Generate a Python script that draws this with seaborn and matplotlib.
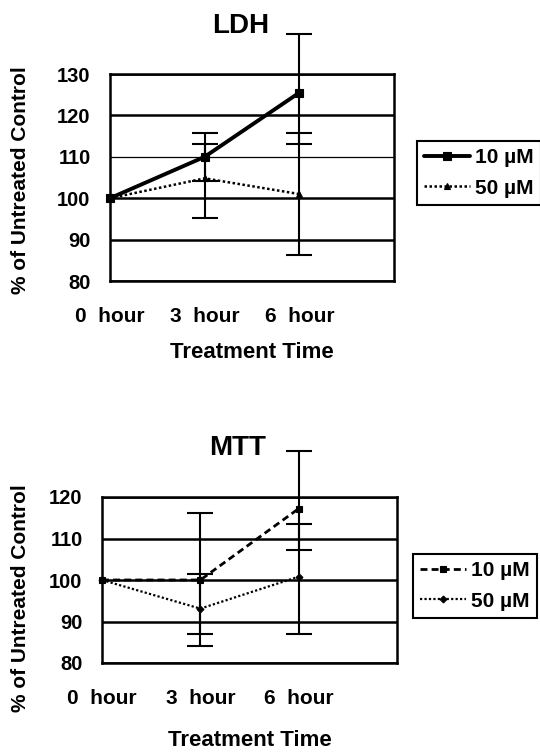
import numpy as np
import matplotlib
matplotlib.use("Agg")
import matplotlib.pyplot as plt
import seaborn as sns

# ---------------- data ----------------
time_labels = ["0  hour", "3  hour", "6  hour"]
time_pos = [0, 1, 2]
conc_labels = ["10 µM", "50 µM"]

ldh_10 = [100, 110, 125.5]
ldh_10_lo = [np.nan, 104.2, 113.1]
ldh_10_hi = [np.nan, 115.8, 139.6]
ldh_50 = [100, 104.8, 101]
ldh_50_lo = [np.nan, 95.1, 86.3]
ldh_50_hi = [np.nan, 113.1, 115.8]

mtt_10 = [100, 100, 117.2]
mtt_10_lo = [np.nan, 84.0, 107.3]
mtt_10_hi = [np.nan, 116.2, 131.0]
mtt_50 = [100, 93.1, 100.8]
mtt_50_lo = [np.nan, 86.9, 86.9]
mtt_50_hi = [np.nan, 101.5, 113.4]

ldh_yticks = [80, 90, 100, 110, 120, 130]
mtt_yticks = [80, 90, 100, 110, 120]

# ---------------- style ----------------
sns.set_style("white")
plt.rcParams["font.family"] = ["Liberation Sans", "DejaVu Sans"]
plt.rcParams["font.weight"] = "bold"
for k in ["text.color", "axes.labelcolor", "xtick.color", "ytick.color"]:
    plt.rcParams[k] = "black"

W, H = 540, 752
fig = plt.figure(figsize=(W / 100, H / 100), dpi=100)


def fx(px):
    return px / W


def fy(py):
    return 1 - py / H


def panel(rect, title, title_xy, series, yticks, xlabel_y, ylabel_xy, legend_xy,
          thin_grid=None):
    l, t, r, b = rect
    ax = fig.add_axes([fx(l), fy(b), fx(r) - fx(l), fy(t) - fy(b)])
    ax.set_axisbelow(True)
    for vals, lo, hi, lab, st in series:
        sns.lineplot(x=time_pos, y=vals, ax=ax, color="black", label=lab,
                     linestyle=st["ls"], linewidth=st["lw"], marker=st["m"],
                     markersize=st["ms"], markeredgewidth=0.8,
                     markeredgecolor="black", clip_on=False, zorder=4)
        v = np.array(vals, float)
        lo = np.array(lo, float)
        hi = np.array(hi, float)
        mask = ~np.isnan(lo)
        xs = np.array(time_pos)[mask]
        cont = ax.errorbar(xs, v[mask], yerr=[v[mask] - lo[mask], hi[mask] - v[mask]],
                           fmt="none", ecolor="black", elinewidth=1.5,
                           capsize=9.5, capthick=1.5, zorder=3)
        for art in cont.get_children():
            art.set_clip_on(False)

    ax.set_xlim(0, 3)
    ax.set_xticks([0, 1, 2, 3])
    ax.set_xticklabels(time_labels + [""])
    ax.set_ylim(yticks[0], yticks[-1])
    ax.set_yticks(yticks)
    ax.set_yticklabels([str(v) for v in yticks])
    ax.tick_params(axis="x", direction="out", length=5, width=1.8, pad=13.5,
                   labelsize=15, colors="black")
    ax.tick_params(axis="y", direction="inout", length=8, width=1.8, pad=10.0,
                   labelsize=14.5, colors="black")
    ax.yaxis.grid(True, color="black", linewidth=1.8)
    ax.xaxis.grid(False)
    if thin_grid is not None:
        ax.get_ygridlines()[thin_grid].set_linewidth(0.9)
    for sp in ax.spines.values():
        sp.set_visible(True)
        sp.set_color("black")
        sp.set_linewidth(1.8)

    ax.set_title(title, fontsize=20, fontweight="bold", pad=0,
                 x=(title_xy[0] - l) / (r - l), y=(b - title_xy[1]) / (b - t),
                 va="center")
    ax.set_xlabel("Treatment Time", fontsize=16, fontweight="bold", va="center")
    ax.xaxis.set_label_coords(0.5, (b - xlabel_y) / (b - t))
    ax.set_ylabel("% of Untreated Control", fontsize=15, fontweight="bold",
                  va="center")
    ax.yaxis.set_label_coords((ylabel_xy[0] - l) / (r - l), (b - ylabel_xy[1]) / (b - t))

    leg = ax.legend(loc="upper left", bbox_to_anchor=(fx(legend_xy[0]), fy(legend_xy[1])),
                    bbox_transform=fig.transFigure, frameon=True, fancybox=False,
                    edgecolor="black", framealpha=1, borderaxespad=0,
                    borderpad=0.35, handlelength=2.2, handletextpad=0.25,
                    labelspacing=0.55,
                    prop={"family": "Liberation Sans", "weight": "bold", "size": 15})
    leg.get_frame().set_linewidth(1.5)
    return ax


ldh_styles = [
    dict(ls="-", lw=2.8, m="s", ms=5.5),
    dict(ls=(0, (1, 1)), lw=1.8, m="^", ms=4),
]
mtt_styles = [
    dict(ls=(0, (2.5, 1.5)), lw=2.0, m="s", ms=5),
    dict(ls=(0, (1, 1)), lw=1.6, m="D", ms=3.5),
]

panel((110, 74, 394, 281), "LDH", (241, 26),
      [(ldh_10, ldh_10_lo, ldh_10_hi, conc_labels[0], ldh_styles[0]),
       (ldh_50, ldh_50_lo, ldh_50_hi, conc_labels[1], ldh_styles[1])],
      ldh_yticks, xlabel_y=352, ylabel_xy=(21, 180), legend_xy=(417, 141),
      thin_grid=3)

panel((102, 497, 397, 663), "MTT", (238, 448),
      [(mtt_10, mtt_10_lo, mtt_10_hi, conc_labels[0], mtt_styles[0]),
       (mtt_50, mtt_50_lo, mtt_50_hi, conc_labels[1], mtt_styles[1])],
      mtt_yticks, xlabel_y=741, ylabel_xy=(21, 598), legend_xy=(413, 554))

fig.savefig("out.png", dpi=100)
